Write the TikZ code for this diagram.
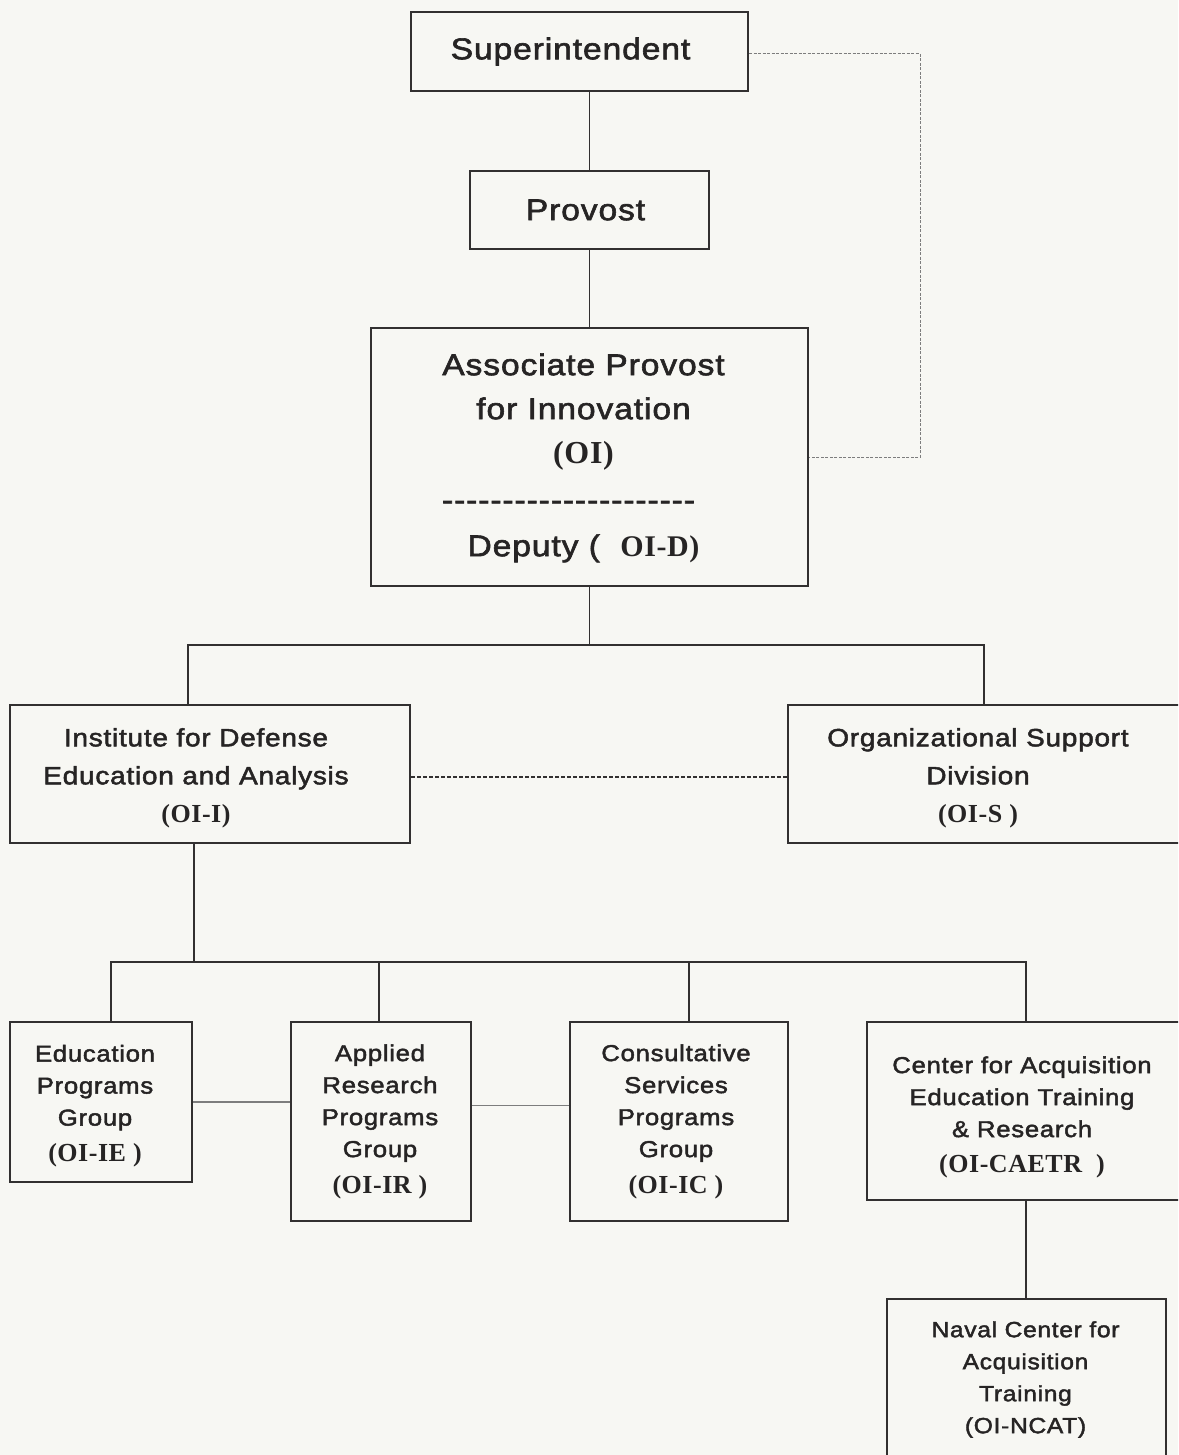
\documentclass[tikz,border=0pt]{standalone}
\usepackage{fontspec}
\newfontfamily\sansA[FakeStretch=1.12,LetterSpace=3,FakeBold=2]{Liberation Sans}
\newfontfamily\serifA[LetterSpace=2]{Liberation Serif}
\definecolor{bgc}{RGB}{247,247,243}
\definecolor{ink}{RGB}{38,36,36}
\definecolor{lnc}{RGB}{50,48,48}
\definecolor{dgray}{RGB}{125,125,125}
\newcommand{\codeA}[1]{{\serifA\bfseries #1}}
\newcommand{\dashrow}{-{}-{}-{}-{}-{}-{}-{}-{}-{}-{}-{}-{}-{}-{}-{}-{}-{}-{}-{}-{}-{}}
\begin{document}
\begin{tikzpicture}[x=1pt,y=-1pt,
  box/.style={draw=lnc,line width=2pt,inner sep=0pt},
  lbl/.style={align=center,text=ink,inner sep=0pt},
  topf/.style={font=\sansA\fontsize{30}{44}\selectfont},
  midf/.style={font=\sansA\fontsize{25}{38}\selectfont},
  lowf/.style={font=\sansA\fontsize{23}{32}\selectfont},
  conn/.style={draw=lnc,line width=1.6pt},
  dotconn/.style={draw=dgray,line width=1pt,dash pattern=on 3pt off 1.5pt},
  dashconn/.style={draw=lnc,line width=1.4pt,dash pattern=on 4pt off 2pt},
  thinconn/.style={draw=dgray,line width=1.1pt}]
\fill[bgc] (0,0) rectangle (1178,1455);
\useasboundingbox (0,0) rectangle (1178,1455);
\begin{scope}
\clip (0,0) rectangle (1178,1455);
% boxes
\node[box,minimum width=337pt,minimum height=79pt] (super) at (579.5,51.5) {};
\node[box,minimum width=239pt,minimum height=78pt] (provost) at (589.5,210) {};
\node[box,minimum width=437pt,minimum height=258pt] (ap) at (589.5,457) {};
\node[box,minimum width=400pt,minimum height=138pt] (idea) at (210,774) {};
\node[box,minimum width=392pt,minimum height=138pt] (osd) at (984,774) {};
\node[box,minimum width=182pt,minimum height=160pt] (edu) at (101,1102) {};
\node[box,minimum width=180pt,minimum height=199pt] (applied) at (381,1121.5) {};
\node[box,minimum width=218pt,minimum height=199pt] (consult) at (679,1121.5) {};
\node[box,minimum width=318pt,minimum height=178pt] (caetr) at (1026,1111) {};
\node[box,minimum width=279pt,minimum height=161pt] (ncat) at (1026.5,1379.5) {};
% labels
\node[lbl,topf] (super-t) at ([xshift=-9pt]super.center) {Superintendent};
\node[lbl,topf] (provost-t) at ([xshift=-4pt]provost.center) {Provost};
\node[lbl,topf] (ap-t) at ([xshift=-6pt,yshift=-1pt]ap.center)
  {Associate Provost\\for Innovation\\\codeA{\fontsize{32}{44}\selectfont(OI)}\\[3pt]\hspace*{-30pt}\dashrow\\[2pt]Deputy (\ \ \codeA{OI-D)}};
\node[lbl,midf] (idea-t) at ([xshift=-14pt,yshift=-4pt]idea.center)
  {Institute for Defense\\Education and Analysis\\\codeA{\fontsize{26}{38}\selectfont(OI-I)}};
\node[lbl,midf] (osd-t) at ([xshift=-6pt,yshift=-4pt]osd.center)
  {Organizational Support\\Division\\\codeA{\fontsize{26}{38}\selectfont(OI-S )}};
\node[lbl,lowf] (edu-t) at ([xshift=-6pt,yshift=-4pt]edu.center)
  {Education\\Programs\\Group\\[4pt]\codeA{\fontsize{26}{32}\selectfont(OI-IE )}};
\node[lbl,lowf] (applied-t) at ([xshift=-1pt,yshift=0pt]applied.center)
  {Applied\\Research\\Programs\\Group\\[4pt]\codeA{\fontsize{26}{32}\selectfont(OI-IR )}};
\node[lbl,lowf] (consult-t) at ([xshift=-3pt,yshift=0pt]consult.center)
  {Consultative\\Services\\Programs\\Group\\[4pt]\codeA{\fontsize{26}{32}\selectfont(OI-IC )}};
\node[lbl,lowf] (caetr-t) at ([xshift=-4pt,yshift=-6pt]caetr.center)
  {Center for Acquisition\\Education Training\\\& Research\\[3pt]\codeA{\fontsize{26}{32}\selectfont(OI-CAETR\ \ )}};
\node[lbl,font=\sansA\fontsize{22}{32}\selectfont] (ncat-t) at ([xshift=-1pt,yshift=0pt]ncat.center)
  {Naval Center for\\Acquisition\\Training\\(OI-NCAT)};
% connectors
\draw[conn] (provost.north |- super.south) -- (provost.north);
\draw[conn] (provost) -- (ap);
\draw[dotconn] ([yshift=-2.5pt]super.east) -- ++(171,0) |- (ap.east);
\coordinate (j1) at (589.5,645);
\draw[conn] (ap.south) -- (j1);
\draw[conn] ([xshift=-22pt]idea.north) |- (j1) -| (osd.north);
\draw[dashconn] ([yshift=-3pt]idea.east) -- ([yshift=-3pt]osd.west);
\coordinate (j2) at (194,962);
\draw[conn] ([xshift=-16pt]idea.south) -- (j2);
\draw[conn] ([xshift=10pt]edu.north) |- (j2) -| (caetr.north);
\draw[conn] ([xshift=-2pt]applied.north) -- ([xshift=-2pt]applied.north |- j2);
\draw[conn] ([xshift=10pt]consult.north) -- ([xshift=10pt]consult.north |- j2);
\draw[thinconn] (edu.east) -- (edu.east -| applied.west);
\draw[thinconn] ([yshift=16pt]applied.east) -- ([yshift=16pt]applied.east -| consult.west);
\draw[conn] (caetr.south) -- (caetr.south |- ncat.north);
\end{scope}
\end{tikzpicture}
\end{document}
